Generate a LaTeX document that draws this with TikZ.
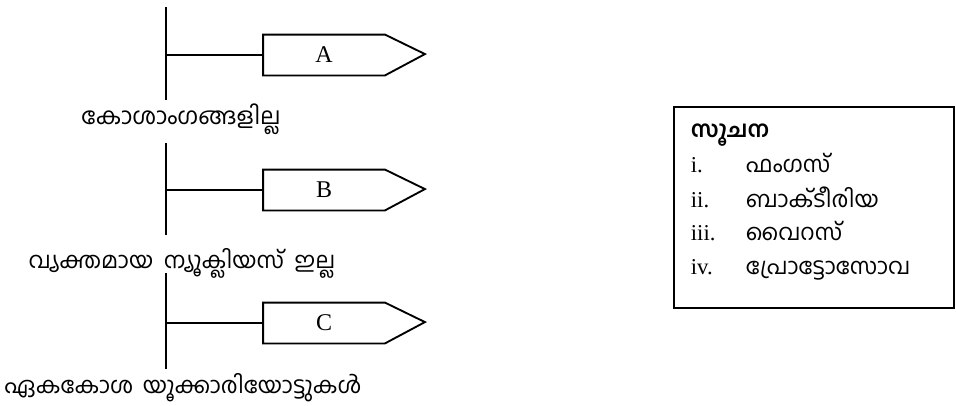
\documentclass[tikz,border=0pt]{standalone}
\usepackage{fontspec}
\setmainfont{Liberation Serif}
\newfontfamily\mlfont[Script=Malayalam]{Hind Kochi}
\usetikzlibrary{positioning}

\begin{document}
\begin{tikzpicture}[x=0.75pt, y=-0.75pt,
            line width=1.4pt,
            every node/.style={inner sep=0pt, font=\fontsize{18}{22}\selectfont},
            tagbox/.style={minimum width=90pt, minimum height=29.25pt}, % rectangular part of the tag
            mllabel/.style={anchor=base, font=\mlfont\fontsize{17}{20}\selectfont}, % label under a stem
            keyitem/.style={anchor=base west, font=\mlfont\fontsize{17}{20}\selectfont},
            keynum/.style={anchor=base west, font=\fontsize{17}{20}\selectfont}
            ]

    \useasboundingbox (0,0) rectangle (956,405);

    % Branch A
    \coordinate (t1) at (166,7);
    \coordinate (b1) at (166,100);
    \coordinate (j1) at (166,55);
    \draw (t1) -- (b1);
    \node[tagbox] (A) at (324,55) {A};
    \draw (A.north west) -- (A.north east) -- ++(40,19.5) -- (A.south east) -- (A.south west) -- cycle;
    \draw (j1) -- (A.west);
    \node[mllabel, font=\mlfont\fontsize{17.5}{20}\selectfont] (l1) at (181,124) {കോശാംഗങ്ങളില്ല};

    % Branch B
    \coordinate (t2) at (166,143);
    \coordinate (b2) at (166,235);
    \coordinate (j2) at (166,190);
    \draw (t2) -- (b2);
    \node[tagbox] (B) at (324,190) {B};
    \draw (B.north west) -- (B.north east) -- ++(40,19.5) -- (B.south east) -- (B.south west) -- cycle;
    \draw (j2) -- (B.west);
    \node[mllabel] (l2) at (182,268) {വ്യക്തമായ\hspace{8pt}ന്യൂക്ലിയസ്\hspace{8pt}ഇല്ല};

    % Branch C
    \coordinate (t3) at (166,273);
    \coordinate (b3) at (166,369);
    \coordinate (j3) at (166,323);
    \draw (t3) -- (b3);
    \node[tagbox] (C) at (324,323) {C};
    \draw (C.north west) -- (C.north east) -- ++(40,19.5) -- (C.south east) -- (C.south west) -- cycle;
    \draw (j3) -- (C.west);
    \node[mllabel] (l3) at (183,393) {ഏകകോശ\hspace{7pt}യൂക്കാരിയോട്ടുകൾ};

    % Key box
    \node[draw, line width=1.8pt, minimum width=210pt, minimum height=150.75pt, anchor=north west] (key) at (673,106) {};
    \node[keyitem, font=\mlfont\bfseries\fontsize{17}{20}\selectfont] (keyhead) at (690,137) {സൂചന};
    \node[keynum] (n1) at (690,172) {i.};
    \node[keynum] (n2) at (690,207) {ii.};
    \node[keynum] (n3) at (690,240) {iii.};
    \node[keynum] (n4) at (690,274) {iv.};
    \node[keyitem] (k1) at (745,172) {ഫംഗസ്};
    \node[keyitem] (k2) at (745,207) {ബാക്ടീരിയ};
    \node[keyitem] (k3) at (745,240) {വൈറസ്};
    \node[keyitem] (k4) at (745,274) {പ്രോട്ടോസോവ};

\end{tikzpicture}
\end{document}
